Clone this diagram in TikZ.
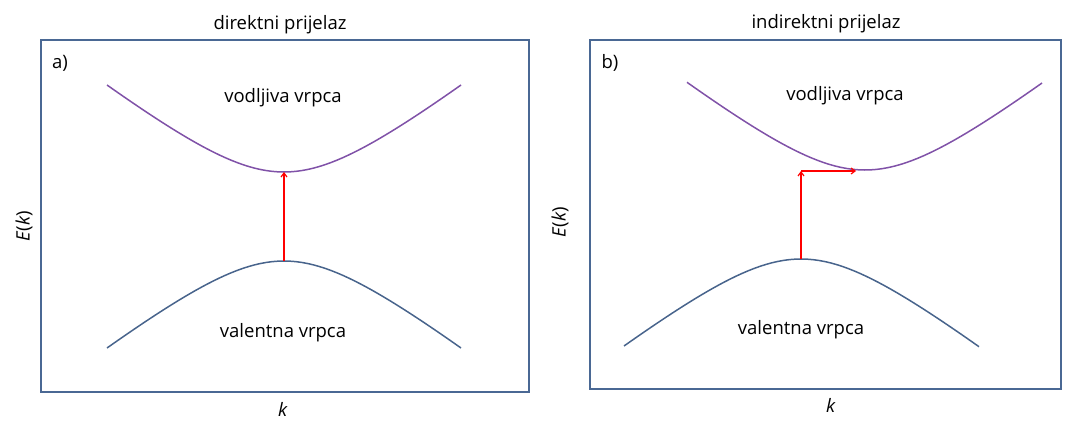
\documentclass[tikz,border=0pt]{standalone}
\usepackage{fontspec}
\setmainfont{Open Sans}
\usetikzlibrary{arrows.meta, positioning}
\definecolor{framecol}{RGB}{74,104,148}
\definecolor{condcol}{RGB}{128,82,168}
\definecolor{valcol}{RGB}{72,100,140}

\begin{document}
\begin{tikzpicture}[
    x=1pt, y=-1pt,
    panel/.style={draw=framecol, line width=1.7pt},
    cband/.style={draw=condcol, line width=1.5pt},
    vband/.style={draw=valcol, line width=1.5pt},
    jump/.style={-{Straight Barb[length=4pt, width=6pt]}, red, line width=1.2pt},
    lbl/.style={font=\fontsize{18.5}{20}\selectfont, inner sep=1pt},
    ttl/.style={font=\fontsize{18.5}{20}\selectfont, inner sep=1pt}
]
    \useasboundingbox (0,0) rectangle (1065,421);

    % panel a: direct
    \draw[panel] (41,40) rectangle (529,392);
    \node[ttl] (titlea) at (280,25) {direktni prijelaz};
    \node[lbl] (taga) at (60,63) {a)};
    \draw[cband] plot[domain=-177:177, samples=61]
        ({284+\x}, {172-87*(sqrt(1+(\x/85)^2)-1)/(sqrt(1+(177/85)^2)-1)});
    \draw[vband] plot[domain=-177:177, samples=61]
        ({284+\x}, {261+87*(sqrt(1+(\x/85)^2)-1)/(sqrt(1+(177/85)^2)-1)});
    \node[lbl] (conda) at (283,98) {vodljiva vrpca};
    \node[lbl] (vala) at (283,333) {valentna vrpca};
    \node[lbl, rotate=90] (Ea) at (24,226) {\textit{E}(\textit{k})};
    \node[lbl, inner sep=0pt] (ka) at (283,409) {\textit{k}};
    \coordinate (vtopa) at (284,261);
    \coordinate (cbota) at (284,172);
    \draw[jump] (vtopa) -- (cbota);

    % panel b: indirect
    \draw[panel] (590,40) rectangle (1061,389);
    \node[ttl] (titleb) at (826,24) {indirektni prijelaz};
    \node[lbl] (tagb) at (610,63) {b)};
    \draw[cband] plot[domain=-178:177, samples=61]
        ({865+\x}, {170-87*(sqrt(1+(\x/85)^2)-1)/(sqrt(1+(177/85)^2)-1)});
    \draw[vband] plot[domain=-177:178, samples=61]
        ({801+\x}, {259+87*(sqrt(1+(\x/85)^2)-1)/(sqrt(1+(177/85)^2)-1)});
    \node[lbl] (condb) at (845,96) {vodljiva vrpca};
    \node[lbl] (valb) at (801,330) {valentna vrpca};
    \node[lbl, rotate=90] (Eb) at (560,222) {\textit{E}(\textit{k})};
    \node[lbl, inner sep=0pt] (kb) at (831,405) {\textit{k}};
    \coordinate (vtopb) at (801,259);
    \coordinate (cornb) at (801,171);
    \coordinate (cbotb) at (856,171);
    \draw[jump] (vtopb) -- (cornb);
    \draw[jump] (cornb) -- (cbotb);
\end{tikzpicture}
\end{document}
